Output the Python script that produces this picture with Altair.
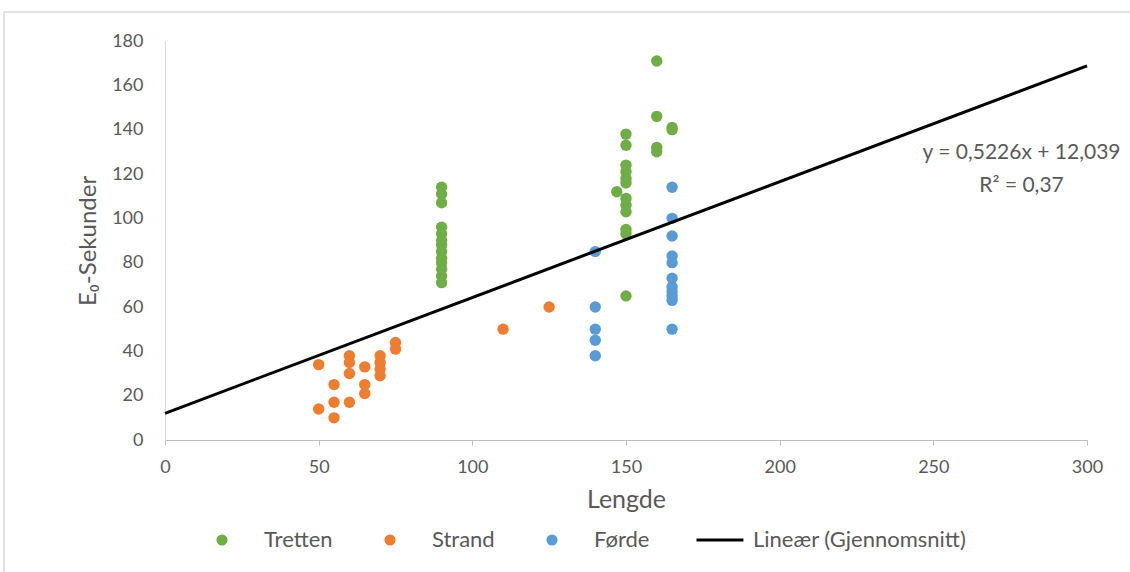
import altair as alt
import pandas as pd

# ---- data ----
tretten_x = [90] * 13 + [150] * 12 + [147] + [160] * 4 + [165] * 2
tretten_y = [114, 111, 107, 96, 93, 90, 88, 85, 82, 80, 77, 74, 71,
             138, 133, 124, 121, 118, 116, 109, 106, 103, 95, 93, 65,
             112,
             171, 146, 132, 130,
             141, 140]

strand_x = [50, 50, 55, 55, 55, 60, 60, 60, 60, 65, 65, 65, 70, 70, 70, 70, 75, 75, 110, 125]
strand_y = [34, 14, 25, 17, 10, 38, 35, 30, 17, 33, 25, 21, 38, 35, 32, 29, 44, 41, 50, 60]

forde_x = [140] * 5 + [165] * 11
forde_y = [85, 60, 50, 45, 38, 114, 100, 92, 83, 80, 73, 69, 67, 65, 63, 50]

trend_x = [0, 300]
trend_y = [12.039, 168.819]

series_names = ["Tretten", "Strand", "Førde", "Lineær (Gjennomsnitt)"]
series_colors = ["#70AD47", "#ED7D31", "#5B9BD5", "#000000"]

eq_x = [278.7]
eq_y = [129.3]
eq_text = ["y = 0,5226x + 12,039\nR² = 0,37"]

x_ticks = [0, 50, 100, 150, 200, 250, 300]
y_ticks = [0, 20, 40, 60, 80, 100, 120, 140, 160, 180]

# ---- tables ----
pts = pd.concat([
    pd.DataFrame({"x": tretten_x, "y": tretten_y, "series": "Tretten"}),
    pd.DataFrame({"x": strand_x, "y": strand_y, "series": "Strand"}),
    pd.DataFrame({"x": forde_x, "y": forde_y, "series": "Førde"}),
], ignore_index=True)
pts["order"] = pts["series"].map({n: i for i, n in enumerate(series_names)})

trend = pd.DataFrame({"x": trend_x, "y": trend_y})
eq = pd.DataFrame({"x": eq_x, "y": eq_y, "t": eq_text})

FONT = "Lato"
TXT = "#595959"

xscale = alt.Scale(domain=[0, 300], nice=False, zero=False)
yscale = alt.Scale(domain=[0, 180], nice=False)

xaxis = alt.Axis(title="Lengde", values=x_ticks, grid=False, domainColor="#BFBFBF",
                 tickColor="#BFBFBF", tickSize=5, labelFontSize=18, labelColor=TXT,
                 labelFont=FONT, labelPadding=13, labelFlush=False, titleFontSize=25,
                 titleColor=TXT, titleFont=FONT, titleFontWeight="normal", titlePadding=11)
yaxis = alt.Axis(title="E₀-Sekunder", values=y_ticks, grid=False, domainColor="#D9D9D9",
                 ticks=False, labelFontSize=18, labelColor=TXT, labelFont=FONT,
                 labelPadding=22, labelFlush=False, titleFontSize=24, titleColor=TXT,
                 titleFont=FONT, titleFontWeight="normal", titlePadding=11)

legend = alt.Legend(title=None, orient="none", legendX=46, legendY=488,
                    direction="horizontal", labelFontSize=22, labelColor=TXT,
                    labelFont=FONT, labelLimit=0, symbolSize=125, labelOffset=31,
                    columnPadding=46)

line_shape = "M-2.6,-0.27L5.8,-0.27L5.8,0.27L-2.6,0.27Z"

border = alt.Chart(pd.DataFrame({"a": [0]})).mark_rect(
    fillOpacity=0, stroke="#D9D9D9", strokeWidth=1.5
).encode(x=alt.value(-161), x2=alt.value(1000), y=alt.value(-29), y2=alt.value(620))

points = alt.Chart(pts).mark_point(filled=True, opacity=1, size=130).encode(
    x=alt.X("x:Q", scale=xscale, axis=xaxis),
    y=alt.Y("y:Q", scale=yscale, axis=yaxis),
    color=alt.Color("series:N", scale=alt.Scale(domain=series_names, range=series_colors),
                    legend=legend),
    shape=alt.Shape("series:N", scale=alt.Scale(domain=series_names,
                                                 range=["circle", "circle", "circle", line_shape]),
                    legend=legend),
    order=alt.Order("order:Q"),
)

line = alt.Chart(trend).mark_line(color="black", strokeWidth=3).encode(
    x="x:Q", y="y:Q"
)

text = alt.Chart(eq).mark_text(align="center", baseline="middle", lineBreak="\n",
                               lineHeight=33, fontSize=21, color=TXT, font=FONT).encode(
    x="x:Q", y="y:Q", text="t:N"
)

chart = alt.layer(border, points, line, text).properties(
    width=922, height=399,
    padding={"left": 165, "top": 41, "right": 43, "bottom": 132},
    autosize=alt.AutoSizeParams(type="none"),
    background="white",
).configure_view(stroke=None)

chart.save("out.html", embed_options={"renderer": "svg", "actions": False})
